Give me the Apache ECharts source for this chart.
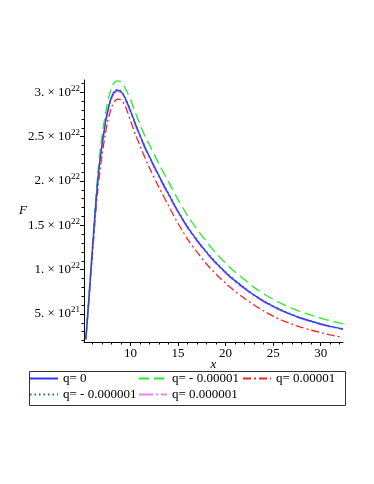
<!DOCTYPE html>
<html>
<head>
<meta charset="utf-8">
<script src="https://cdn.jsdelivr.net/npm/echarts@6/dist/echarts.min.js"></script>
<style>
  html, body { margin: 0; padding: 0; background: #fff; }
  #main { width: 374px; height: 484px; }
</style>
</head>
<body>
<div id="main"></div>
<script>
// x values and F values (in units of 10^22)
const xs = [5.3, 5.55, 5.8, 6.05, 6.3, 6.55, 6.8, 7.05, 7.3, 7.55, 7.8, 8.05, 8.3, 8.6, 8.9, 9.2, 9.5, 10, 10.5, 11, 11.5, 12, 13, 14, 15, 16, 17, 18, 19, 20, 21, 22, 23, 24, 25, 26, 27, 28, 29, 30, 31, 32.35];
const fQ0 = [0.22, 0.58, 0.95, 1.32, 1.68, 2.00, 2.25, 2.45, 2.62, 2.77, 2.88, 2.96, 3.005, 3.025, 3.015, 2.98, 2.92, 2.79, 2.645, 2.51, 2.385, 2.27, 2.055, 1.85, 1.655, 1.48, 1.33, 1.195, 1.075, 0.968, 0.873, 0.79, 0.712, 0.645, 0.587, 0.536, 0.491, 0.452, 0.418, 0.387, 0.36, 0.33];
const fQm5 = [0.23, 0.61, 0.99, 1.37, 1.75, 2.08, 2.34, 2.55, 2.72, 2.87, 2.98, 3.06, 3.11, 3.13, 3.125, 3.09, 3.035, 2.915, 2.77, 2.635, 2.51, 2.405, 2.19, 1.99, 1.79, 1.61, 1.455, 1.315, 1.185, 1.075, 0.973, 0.885, 0.80, 0.727, 0.666, 0.612, 0.564, 0.524, 0.487, 0.453, 0.423, 0.389];
const fQp5 = [0.21, 0.55, 0.90, 1.25, 1.59, 1.89, 2.13, 2.33, 2.50, 2.65, 2.76, 2.845, 2.895, 2.922, 2.92, 2.89, 2.83, 2.68, 2.53, 2.395, 2.265, 2.145, 1.925, 1.72, 1.52, 1.345, 1.197, 1.064, 0.948, 0.847, 0.755, 0.675, 0.601, 0.535, 0.475, 0.426, 0.385, 0.349, 0.317, 0.290, 0.265, 0.234];
const fQm6 = [0.22, 0.59, 0.96, 1.33, 1.69, 2.01, 2.26, 2.46, 2.63, 2.78, 2.89, 2.97, 3.015, 3.035, 3.025, 2.99, 2.93, 2.80, 2.655, 2.52, 2.395, 2.28, 2.065, 1.86, 1.665, 1.49, 1.34, 1.205, 1.085, 0.976, 0.881, 0.797, 0.719, 0.651, 0.593, 0.541, 0.496, 0.456, 0.422, 0.391, 0.364, 0.334];
const fQp6 = [0.21, 0.56, 0.93, 1.30, 1.66, 1.98, 2.23, 2.43, 2.60, 2.75, 2.86, 2.94, 2.99, 3.01, 3.0, 2.965, 2.905, 2.775, 2.63, 2.495, 2.37, 2.255, 2.04, 1.835, 1.64, 1.467, 1.318, 1.184, 1.065, 0.959, 0.865, 0.782, 0.705, 0.638, 0.58, 0.53, 0.485, 0.447, 0.413, 0.382, 0.355, 0.325];

const seriesNames = ['q= 0', 'q= - 0.00001', 'q= 0.00001', 'q= - 0.000001', 'q= 0.000001'];
const xLabels = [10, 15, 20, 25, 30];
const yLabels = [0.5, 1, 1.5, 2, 2.5, 3];
const yLabelText = ['5. × 10{s|21}', '1. × 10{s|22}', '1.5 × 10{s|22}', '2. × 10{s|22}', '2.5 × 10{s|22}', '3. × 10{s|22}'];

const serif = '"Liberation Serif", "DejaVu Serif", serif';
const xMinor = [];
for (let v = 6; v <= 32; v++) xMinor.push(v);
const yMinor = [];
for (let v = 2; v <= 31; v++) yMinor.push(v / 10);

function pts(ys) {
  return xs.map((x, i) => [x, ys[i]]);
}

let chart = echarts.init(document.getElementById('main'));

const grid = { left: 84, right: 31, top: 80, bottom: 142 };
const xRange = { min: 5.1, max: 32.35 };
const yRange = { min: 0.184, max: 3.139 };

function line(name, ys, color, type, width) {
  return {
    name: name,
    type: 'line',
    data: pts(ys),
    showSymbol: false,
    symbol: 'none',
    smooth: 0.3,
    lineStyle: { color: color, width: width, type: type },
    itemStyle: { color: color },
    animation: false
  };
}

function legendCol(names, left) {
  return {
    data: names, left: left, top: 372,
    orient: 'vertical', padding: 0,
    itemWidth: 28, itemHeight: 12, itemGap: 3,
    itemStyle: { opacity: 0 },
    textStyle: { fontFamily: serif, fontSize: 13, color: '#000' }
  };
}

let option = {
  backgroundColor: '#fff',
  grid: grid,
  xAxis: [
    {
      type: 'value', min: xRange.min, max: xRange.max,
      axisLine: { lineStyle: { color: '#000', width: 1 } },
      splitLine: { show: false },
      axisTick: { customValues: xLabels, length: 4, lineStyle: { color: '#000' } },
      axisLabel: { customValues: xLabels, color: '#000', fontFamily: serif, fontSize: 13, margin: 5 },
      name: 'x', nameLocation: 'middle', nameGap: 16, nameMoveOverlap: false,
      nameTextStyle: { fontFamily: serif, fontStyle: 'italic', fontSize: 13, color: '#000' }
    },
    {
      type: 'value', min: xRange.min, max: xRange.max, position: 'bottom',
      axisLine: { show: false }, splitLine: { show: false },
      axisTick: { customValues: xMinor, length: 2.5, lineStyle: { color: '#000' } },
      axisLabel: { show: false }
    }
  ],
  yAxis: [
    {
      type: 'value', min: yRange.min, max: yRange.max,
      axisLine: { show: true, lineStyle: { color: '#000', width: 1 } },
      splitLine: { show: false },
      axisTick: { show: true, customValues: yLabels, length: 4, lineStyle: { color: '#000' } },
      axisLabel: {
        customValues: yLabels, color: '#000', fontFamily: serif, fontSize: 13, margin: 4,
        formatter: function (v) {
          return yLabelText[yLabels.indexOf(v)];
        },
        rich: {
          s: { fontFamily: serif, fontSize: 9, verticalAlign: 'top', padding: [0, 0, 8, 0], color: '#000' }
        }
      },
      name: 'F', nameLocation: 'middle', nameGap: 57, nameRotate: 0, nameMoveOverlap: false,
      nameTextStyle: { fontFamily: serif, fontStyle: 'italic', fontSize: 13, color: '#000' }
    },
    {
      type: 'value', min: yRange.min, max: yRange.max, position: 'left',
      axisLine: { show: false }, splitLine: { show: false },
      axisTick: { show: true, customValues: yMinor, length: 2.5, lineStyle: { color: '#000' } },
      axisLabel: { show: false }
    }
  ],
  legend: [
    legendCol([seriesNames[0], seriesNames[3]], 29),
    legendCol([seriesNames[1], seriesNames[4]], 138),
    legendCol([seriesNames[2]], 242)
  ],
  graphic: [
    {
      type: 'rect', left: 27, top: 369,
      shape: { width: 316, height: 34 },
      style: { fill: 'none', stroke: '#333', lineWidth: 1 }
    }
  ],
  series: [
    line(seriesNames[1], fQm5, '#22ee22', [10, 5], 1.3),
    line(seriesNames[2], fQp5, '#ff2222', [8, 3, 2, 3], 1.3),
    line(seriesNames[4], fQp6, '#ee82ee', [14, 3, 2, 3], 1.5),
    line(seriesNames[0], fQ0, '#3333ff', 'solid', 1.4),
    line(seriesNames[3], fQm6, '#008080', [1.5, 3], 1.2)
  ]
};

chart.setOption(option);
</script>
</body>
</html>
